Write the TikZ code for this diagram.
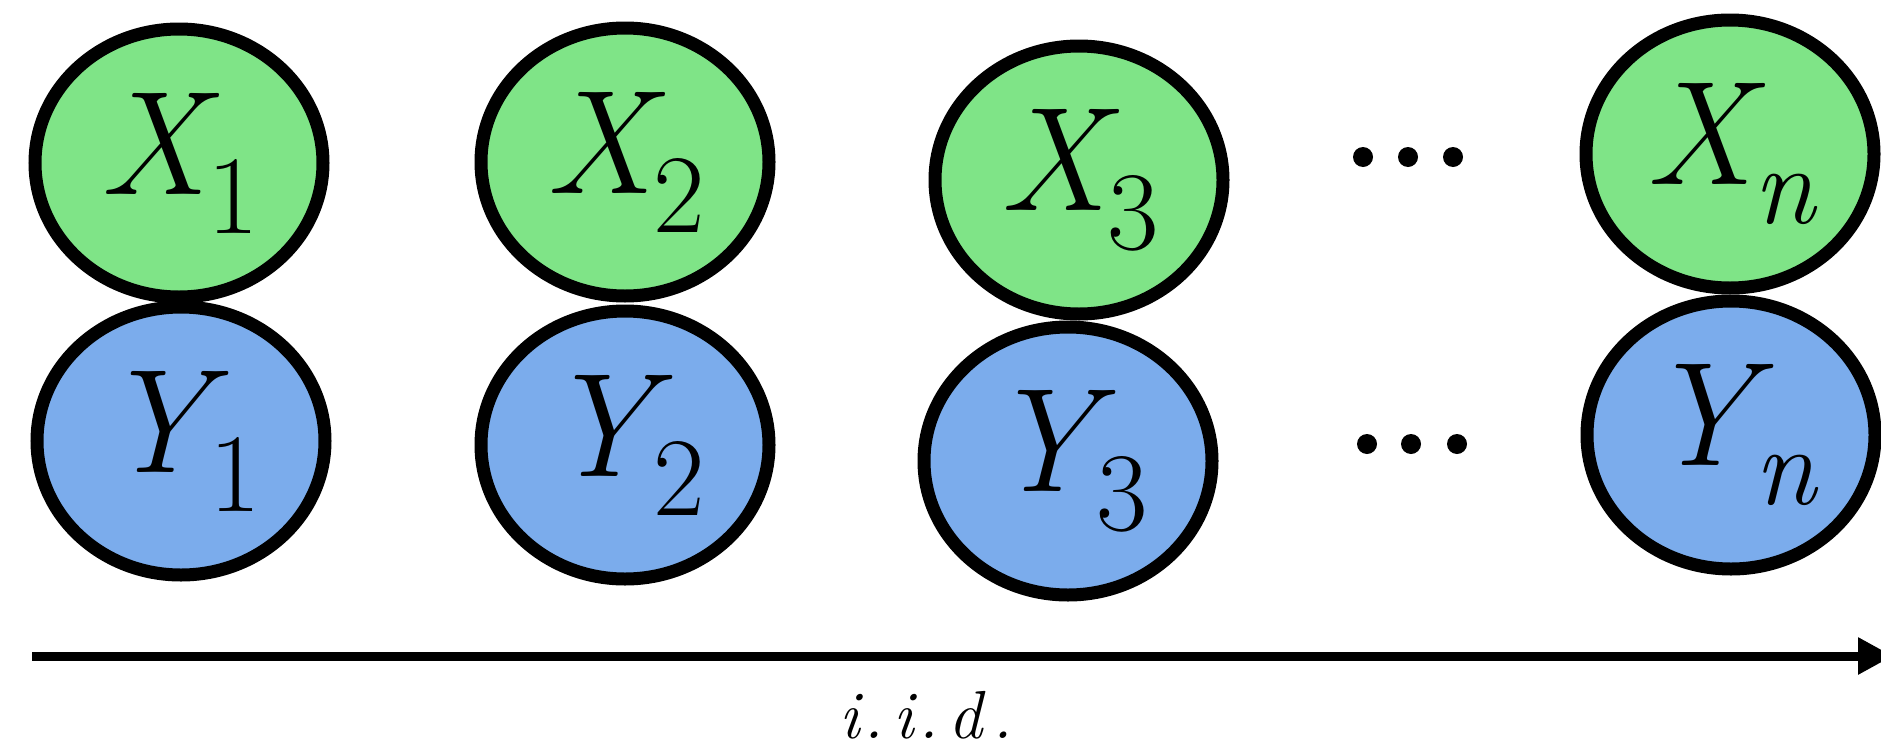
\documentclass[tikz,border=0pt]{standalone}
\usepackage{fontspec}
\usetikzlibrary{shapes.geometric,arrows.meta}
\definecolor{xgreen}{HTML}{7FE487}
\definecolor{yblue}{HTML}{7BACEC}
\newcommand{\varlab}[2]{{\fontsize{74}{80}\selectfont\itshape #1}\raisebox{-19.5pt}{\fontsize{56}{60}\selectfont #2}}
\begin{document}
\begin{tikzpicture}[x=0.5pt,y=-0.5pt,
  var/.style={ellipse, draw=black, line width=6.5pt, minimum width=144pt, minimum height=134pt, inner sep=0pt},
  xv/.style={var, fill=xgreen},
  yv/.style={var, fill=yblue},
  dotmark/.style={circle, fill=black, inner sep=0pt, minimum size=10pt}]
\useasboundingbox (0,0) rectangle (1881,750);
\node[xv] (x1) at (179,163) {\varlab{X}{1}};
\node[yv] (y1) at (181,441) {\varlab{Y}{1}};
\node[xv] (x2) at (625,162) {\varlab{X}{2}};
\node[yv] (y2) at (625,445) {\varlab{Y}{2}};
\node[xv] (x3) at (1079,180) {\varlab{X}{3}};
\node[yv] (y3) at (1068,461) {\varlab{Y}{3}};
\node[xv] (xn) at (1730,154) {\varlab{X}{\itshape n}};
\node[yv] (yn) at (1731,435) {\varlab{Y}{\itshape n}};
\node[dotmark] (dt1) at (1363,157) {};
\node[dotmark] (dt2) at (1408,157) {};
\node[dotmark] (dt3) at (1453,157) {};
\node[dotmark] (db1) at (1367,444) {};
\node[dotmark] (db2) at (1411,444) {};
\node[dotmark] (db3) at (1457,444) {};
\coordinate (a0) at (32,656);
\coordinate (a1) at (1893,656);
\draw[line width=4.5pt, -{Triangle[length=17.5pt,width=17.5pt]}] (a0) -- (a1);
\node[anchor=base, inner sep=0pt, font=\fontsize{34}{38}\selectfont\itshape] (iid) at (926,738) {i\hspace{2pt}.\hspace{5pt}i\hspace{2pt}.\hspace{5pt}d\hspace{5pt}.};
\end{tikzpicture}
\end{document}
